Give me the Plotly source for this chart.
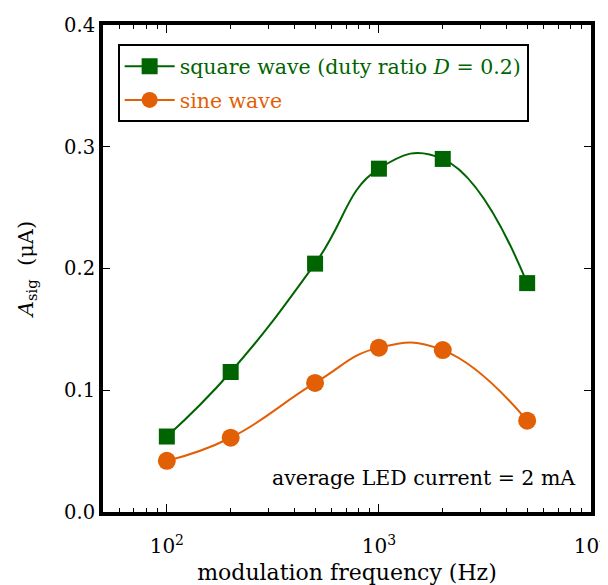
import plotly.graph_objects as go

freq = [100, 200, 500, 1000, 2000, 5000]
square_wave = [0.062, 0.115, 0.204, 0.282, 0.290, 0.188]
sine_wave = [0.042, 0.061, 0.106, 0.135, 0.133, 0.075]

x_tickvals = [100, 1000, 10000]
x_ticktext = ["10<sup>2</sup>", "10<sup>3</sup>", "10<sup>4</sup>"]
y_tickvals = [0.0, 0.1, 0.2, 0.3, 0.4]
minor_vals = [60, 70, 80, 90, 200, 300, 400, 500, 600, 700, 800, 900,
              2000, 3000, 4000, 5000, 6000, 7000, 8000, 9000]

GREEN = "#006400"
ORANGE = "#e35f05"
FONT = "DejaVu Serif"

fig = go.Figure()
fig.add_trace(go.Scatter(
    x=freq, y=square_wave, mode="lines+markers", legendgroup="sq",
    name=f"<span style='color:{GREEN}'>square wave (duty ratio <i>D</i> = 0.2)</span>",
    line=dict(color=GREEN, width=2, shape="spline", smoothing=1.3),
    marker=dict(symbol="square", size=16, color=GREEN),
))
fig.add_trace(go.Scatter(
    x=freq, y=sine_wave, mode="lines+markers", legendgroup="sin",
    name=f"<span style='color:{ORANGE}'>sine wave</span>",
    line=dict(color=ORANGE, width=2, shape="spline", smoothing=1.3),
    marker=dict(symbol="circle", size=18, color=ORANGE),
))

fig.add_annotation(
    text="average LED current = 2 mA", xref="paper", yref="paper",
    x=0.971, y=0.07, xanchor="right", yanchor="middle", showarrow=False,
    font=dict(family=FONT, size=20.5, color="black"),
)

fig.update_layout(
    template="none",
    width=600, height=577,
    margin=dict(l=95, r=17, t=17, b=73, autoexpand=False),
    paper_bgcolor="white", plot_bgcolor="white",
    font=dict(family=FONT, size=20, color="black"),
    showlegend=True,
    legend=dict(
        x=0.03, y=0.96, xanchor="left", yanchor="top",
        bordercolor="black", borderwidth=2, bgcolor="white",
        font=dict(family=FONT, size=20.5), itemwidth=50,
        tracegroupgap=4,
    ),
    xaxis=dict(
        type="log", range=[1.699, 4], automargin=False,
        tickvals=x_tickvals, ticktext=x_ticktext,
        ticks="inside", ticklen=8, tickwidth=1, tickcolor="black",
        ticklabelstandoff=13, ticklabeloverflow="allow",
        showline=True, linewidth=4, linecolor="black", mirror="ticks",
        showgrid=False, zeroline=False,
        minor=dict(tickvals=minor_vals, ticks="inside", ticklen=4,
                   tickwidth=1, tickcolor="black", showgrid=False),
        title=dict(text="modulation frequency (Hz)", standoff=14,
                   font=dict(family=FONT, size=22)),
        tickfont=dict(family=FONT, size=20),
    ),
    yaxis=dict(
        range=[0, 0.4], tickvals=y_tickvals, tickformat=".1f", automargin=False,
        ticks="inside", ticklen=7, tickwidth=1, tickcolor="black",
        showline=True, linewidth=4, linecolor="black", mirror="ticks",
        showgrid=False, zeroline=False,
        title=dict(text="<i>A</i><sub>sig</sub>  (μA)", standoff=26,
                   font=dict(family=FONT, size=21)),
        tickfont=dict(family=FONT, size=19.5),
    ),
)

fig.write_html("out.html")
